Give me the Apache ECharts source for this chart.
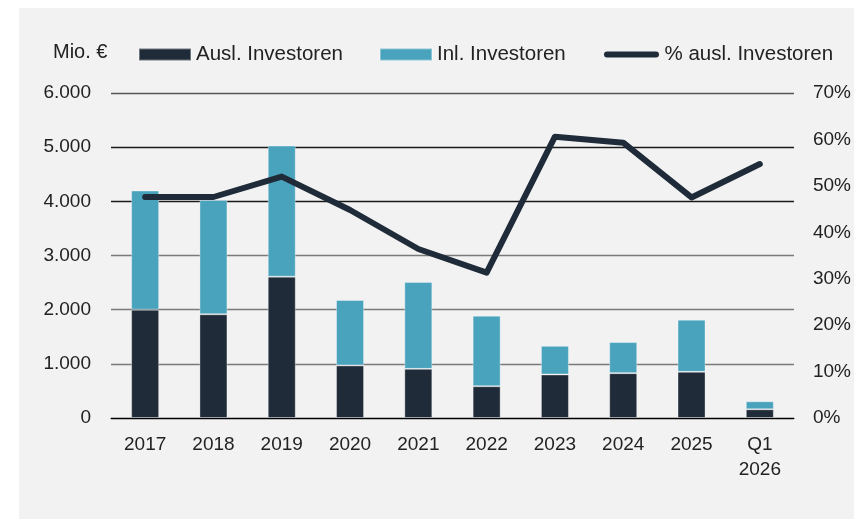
<!DOCTYPE html>
<html>
<head>
<meta charset="utf-8">
<script src="https://cdn.jsdelivr.net/npm/echarts@6/dist/echarts.min.js"></script>
<style>
    html, body { margin: 0; padding: 0; background: #fff; }
    .wrap { position: relative; width: 854px; height: 519px; }
    .bg { position: absolute; left: 19px; top: 8px; right: 0; bottom: 0; background: #f2f2f2; }
    #chart { position: absolute; left: 0; top: 0; width: 854px; height: 519px; }
</style>
</head>
<body>
<div class="wrap">
    <div class="bg"></div>
    <div id="chart"></div>
</div>
<script>
    // Kategorien
    const categories = ['2017', '2018', '2019', '2020', '2021', '2022', '2023', '2024', '2025', 'Q1\n2026']
    // Mio. €
    const auslInvestoren = [2000, 1915, 2610, 970, 907, 587, 803, 828, 852, 161]
    const inlInvestoren = [2200, 2110, 2420, 1210, 1606, 1302, 530, 574, 963, 148]
    // Anteil ausländischer Investoren in %
    const anteilAusl = [47.6, 47.6, 52.0, 44.8, 36.4, 31.3, 60.6, 59.3, 47.5, 54.7]
    // Achsen
    const leftTicks = [0, 6000, 1000]
    const rightTicks = [0, 70, 10]

    const FONT = 'Liberation Sans'
    const TXT = '#222'
    const DARK = '#1f2b38'
    const BLUE = '#4aa3bd'

    const chart = echarts.init(document.getElementById('chart'))

    const legendText = { color: TXT, fontSize: 20.5, fontFamily: FONT }
    // Kapsel-Icon für die Linie in der Legende
    const capsule = 'path://M3,0 L52,0 A3,3 0 0 1 52,6 L3,6 A3,3 0 0 1 3,0 Z'

    const option = {
        backgroundColor: 'transparent',
        animation: false,
        textStyle: { fontFamily: FONT },
        graphic: [{
            type: 'text',
            left: 53,
            top: 42,
            style: { text: 'Mio. €', fill: TXT, font: '20px "' + FONT + '"' }
        }],
        legend: [
            { left: 133, top: 39, itemWidth: 52, itemHeight: 12, textStyle: legendText, data: [{ name: 'Ausl. Investoren', icon: 'rect' }] },
            { left: 374, top: 39, itemWidth: 52, itemHeight: 12, textStyle: legendText, data: [{ name: 'Inl. Investoren', icon: 'rect' }] },
            { left: 599, top: 39, itemWidth: 56, itemHeight: 6, textStyle: legendText, data: [{ name: '% ausl. Investoren', icon: capsule }] }
        ],
        grid: { left: 111, right: 54, top: 93, bottom: 101 },
        xAxis: {
            type: 'category',
            data: categories,
            axisLine: { lineStyle: { color: '#000', width: 1 } },
            axisTick: { show: false },
            axisLabel: { color: TXT, fontSize: 19, margin: 14, lineHeight: 25, interval: 0 }
        },
        yAxis: [
            {
                type: 'value',
                min: leftTicks[0],
                max: leftTicks[1],
                interval: leftTicks[2],
                axisLine: { show: false },
                axisTick: { show: false },
                axisLabel: {
                    color: TXT, fontSize: 19, margin: 20,
                    formatter: v => String(v).replace(/\B(?=(\d{3})+(?!\d))/g, '.')
                },
                splitLine: { lineStyle: { color: ['#000', '#7a7a7a', '#7a7a7a', '#7a7a7a', '#1a1a1a', '#1a1a1a', '#555'], width: 1.3 } }
            },
            {
                type: 'value',
                min: rightTicks[0],
                max: rightTicks[1],
                interval: rightTicks[2],
                axisLine: { show: false },
                axisTick: { show: false },
                axisLabel: { color: TXT, fontSize: 19, margin: 19, formatter: '{value}%' },
                splitLine: { show: false }
            }
        ],
        series: [
            {
                name: 'Ausl. Investoren',
                type: 'bar',
                stack: 'invest',
                barWidth: 28,
                data: auslInvestoren,
                itemStyle: { color: DARK, borderColor: 'rgba(255,255,255,0.35)', borderWidth: 1 }
            },
            {
                name: 'Inl. Investoren',
                type: 'bar',
                stack: 'invest',
                barWidth: 28,
                data: inlInvestoren,
                itemStyle: { color: BLUE, borderColor: 'rgba(255,255,255,0.35)', borderWidth: 1 }
            },
            {
                name: '% ausl. Investoren',
                type: 'line',
                yAxisIndex: 1,
                data: anteilAusl,
                symbol: 'none',
                lineStyle: { color: DARK, width: 6, cap: 'round', join: 'round' },
                itemStyle: { color: DARK }
            }
        ]
    }

    chart.setOption(option)
</script>
</body>
</html>
